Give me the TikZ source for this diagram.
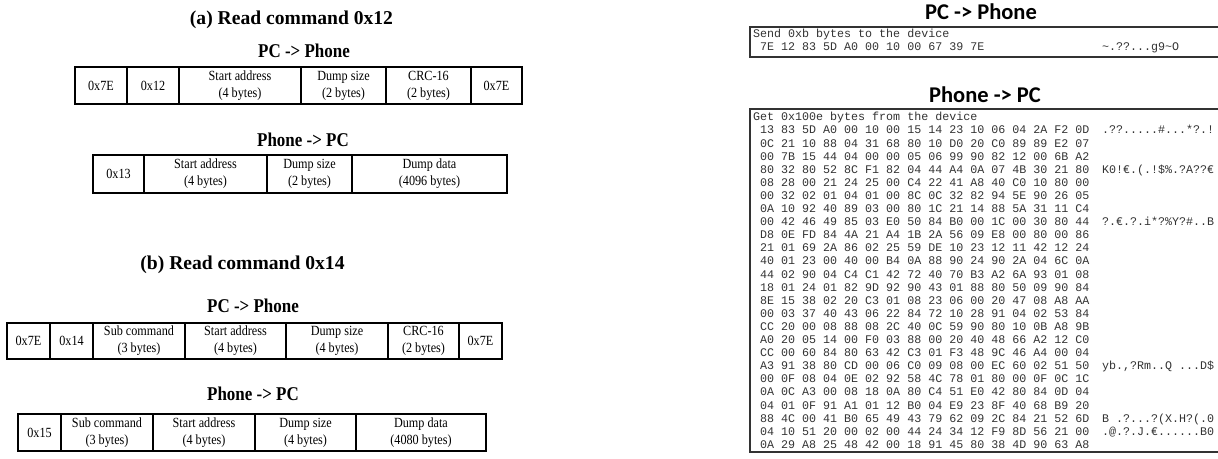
\documentclass[tikz,border=0pt]{standalone}
\usepackage{fontspec}
\setmainfont{Liberation Serif}
\newfontfamily\cellfont[FakeStretch=0.87]{Liberation Serif}
\newfontfamily\carlitofont{Carlito}
\newfontfamily\hexfont{Liberation Mono}
\newcommand\mkcell[6]{\node[cellbox, minimum width={(#3-#2)*1pt}, minimum height={(#5-#4)*1pt}] (#1) at ({(#2+#3)/2},{(#4+#5)/2}) {#6};}
\begin{document}
\begin{tikzpicture}[x=1pt,y=-1pt,
 cellbox/.style={draw, line width=1.1pt, inner sep=0pt, outer sep=0pt, align=center, font=\cellfont\fontsize{14}{17}\selectfont},
 titletext/.style={font=\fontsize{19.6}{22}\selectfont\bfseries, anchor=base, inner sep=0pt},
 subtext/.style={font=\cellfont\fontsize{19.5}{22}\selectfont\bfseries, anchor=base, inner sep=0pt},
 rtitle/.style={font=\carlitofont\fontsize{22.5}{26}\selectfont\bfseries, anchor=base, inner sep=0pt},
 hex/.style={font=\hexfont\fontsize{11.67}{13}\selectfont, text=black!80, anchor=base west, inner sep=0pt},
 dumpframe/.style={draw=black!80, line width=1.4pt}]
\useasboundingbox[fill=white] (0,0) rectangle (1218,458);

% ---------- (a) ----------
\node[titletext] (ta) at (291.5,24) {(a) Read command 0x12};
\node[subtext] (sa1) at (304,57) {PC -> Phone};
\mkcell{a1c1}{75}{127}{67}{104}{0x7E}
\mkcell{a1c2}{127}{179}{67}{104}{0x12}
\mkcell{a1c3}{179}{301}{67}{104}{Start address\\(4 bytes)}
\mkcell{a1c4}{301}{386}{67}{104}{Dump size\\(2 bytes)}
\mkcell{a1c5}{386}{471}{67}{104}{CRC-16\\(2 bytes)}
\mkcell{a1c6}{471}{522}{67}{104}{0x7E}

\node[subtext] (sa2) at (303,146) {Phone -> PC};
\mkcell{a2c1}{93}{144}{155}{193}{0x13}
\mkcell{a2c2}{144}{267}{155}{193}{Start address\\(4 bytes)}
\mkcell{a2c3}{267}{352}{155}{193}{Dump size\\(2 bytes)}
\mkcell{a2c4}{352}{507}{155}{193}{Dump data\\(4096 bytes)}

% ---------- (b) ----------
\node[titletext] (tb) at (242.5,269) {(b) Read command 0x14};
\node[subtext] (sb1) at (253,312) {PC -> Phone};
\mkcell{b1c1}{7}{50}{323}{359}{0x7E}
\mkcell{b1c2}{50}{93}{323}{359}{0x14}
\mkcell{b1c3}{93}{185}{323}{359}{Sub command\\(3 bytes)}
\mkcell{b1c4}{185}{286}{323}{359}{Start address\\(4 bytes)}
\mkcell{b1c5}{286}{388}{323}{359}{Dump size\\(4 bytes)}
\mkcell{b1c6}{388}{459}{323}{359}{CRC-16\\(2 bytes)}
\mkcell{b1c7}{459}{502}{323}{359}{0x7E}

\node[subtext] (sb2) at (253,400) {Phone -> PC};
\mkcell{b2c1}{18}{61}{414}{451}{0x15}
\mkcell{b2c2}{61}{153}{414}{451}{Sub command\\(3 bytes)}
\mkcell{b2c3}{153}{255}{414}{451}{Start address\\(4 bytes)}
\mkcell{b2c4}{255}{356}{414}{451}{Dump size\\(4 bytes)}
\mkcell{b2c5}{356}{486}{414}{451}{Dump data\\(4080 bytes)}

% ---------- right: capture ----------
\node[rtitle] (r1) at (981,19) {PC -> Phone};
\draw[dumpframe] (1218,27) -- (750,27) -- (750,57) -- (1218,57);
\node[hex] (s0) at (753,37) {Send 0xb bytes to the device};
\node[hex] (s1) at (760,50) {7E 12 83 5D A0 00 10 00 67 39 7E};
\node[hex] (s2) at (1102,50) {\string~.??...g9\string~O};

\node[rtitle] (r2) at (985,102) {Phone -> PC};
\draw[dumpframe] (1218,109) -- (750,109) -- (750,452) -- (1218,452);
\node[hex] (h0) at (753,120.8) {Get 0x100e bytes from the device};
\foreach \t [count=\i] in {
13 83 5D A0 00 10 00 15 14 23 10 06 04 2A F2 0D,
0C 21 10 88 04 31 68 80 10 D0 20 C0 89 89 E2 07,
00 7B 15 44 04 00 00 05 06 99 90 82 12 00 6B A2,
80 32 80 52 8C F1 82 04 44 A4 0A 07 4B 30 21 80,
08 28 00 21 24 25 00 C4 22 41 A8 40 C0 10 80 00,
00 32 02 01 04 01 00 8C 0C 32 82 94 5E 90 26 05,
0A 10 92 40 89 03 00 80 1C 21 14 88 5A 31 11 C4,
00 42 46 49 85 03 E0 50 84 B0 00 1C 00 30 80 44,
D8 0E FD 84 4A 21 A4 1B 2A 56 09 E8 00 80 00 86,
21 01 69 2A 86 02 25 59 DE 10 23 12 11 42 12 24,
40 01 23 00 40 00 B4 0A 88 90 24 90 2A 04 6C 0A,
44 02 90 04 C4 C1 42 72 40 70 B3 A2 6A 93 01 08,
18 01 24 01 82 9D 92 90 43 01 88 80 50 09 90 84,
8E 15 38 02 20 C3 01 08 23 06 00 20 47 08 A8 AA,
00 03 37 40 43 06 22 84 72 10 28 91 04 02 53 84,
CC 20 00 08 88 08 2C 40 0C 59 90 80 10 0B A8 9B,
A0 20 05 14 00 F0 03 88 00 20 40 48 66 A2 12 C0,
CC 00 60 84 80 63 42 C3 01 F3 48 9C 46 A4 00 04,
A3 91 38 80 CD 00 06 C0 09 08 00 EC 60 02 51 50,
00 0F 08 04 0E 02 92 58 4C 78 01 80 00 0F 0C 1C,
0A 0C A3 00 08 18 0A 80 C4 51 E0 42 80 84 0D 04,
04 01 0F 91 A1 01 12 B0 04 E9 23 8F 40 68 B9 20,
88 4C 00 41 B0 65 49 43 79 62 09 2C 84 21 52 6D,
04 10 51 20 00 02 00 44 24 34 12 F9 8D 56 21 00,
0A 29 A8 25 48 42 00 18 91 45 80 38 4D 90 63 A8}
  \node[hex] (h\i) at (760,{117+13.1*\i+3.8}) {\t};
\node[hex] (a1) at (1102,{117+13.1*1+3.8}) {.??.....\#...*?.!};
\node[hex] (a4) at (1102,{117+13.1*4+3.8}) {K0!€.(.!\$\%.?A??€};
\node[hex] (a8) at (1102,{117+13.1*8+3.8}) {?.€.?.i*?\%Y?\#..B};
\node[hex] (a19) at (1102,{117+13.1*19+3.8}) {yb.,?Rm..Q ...D\$};
\node[hex] (a23) at (1102,{117+13.1*23+3.8}) {B .?...?(X.H?(.0};
\node[hex] (a24) at (1102,{117+13.1*24+3.8}) {.@.?.J.€......B0};
\end{tikzpicture}
\end{document}
